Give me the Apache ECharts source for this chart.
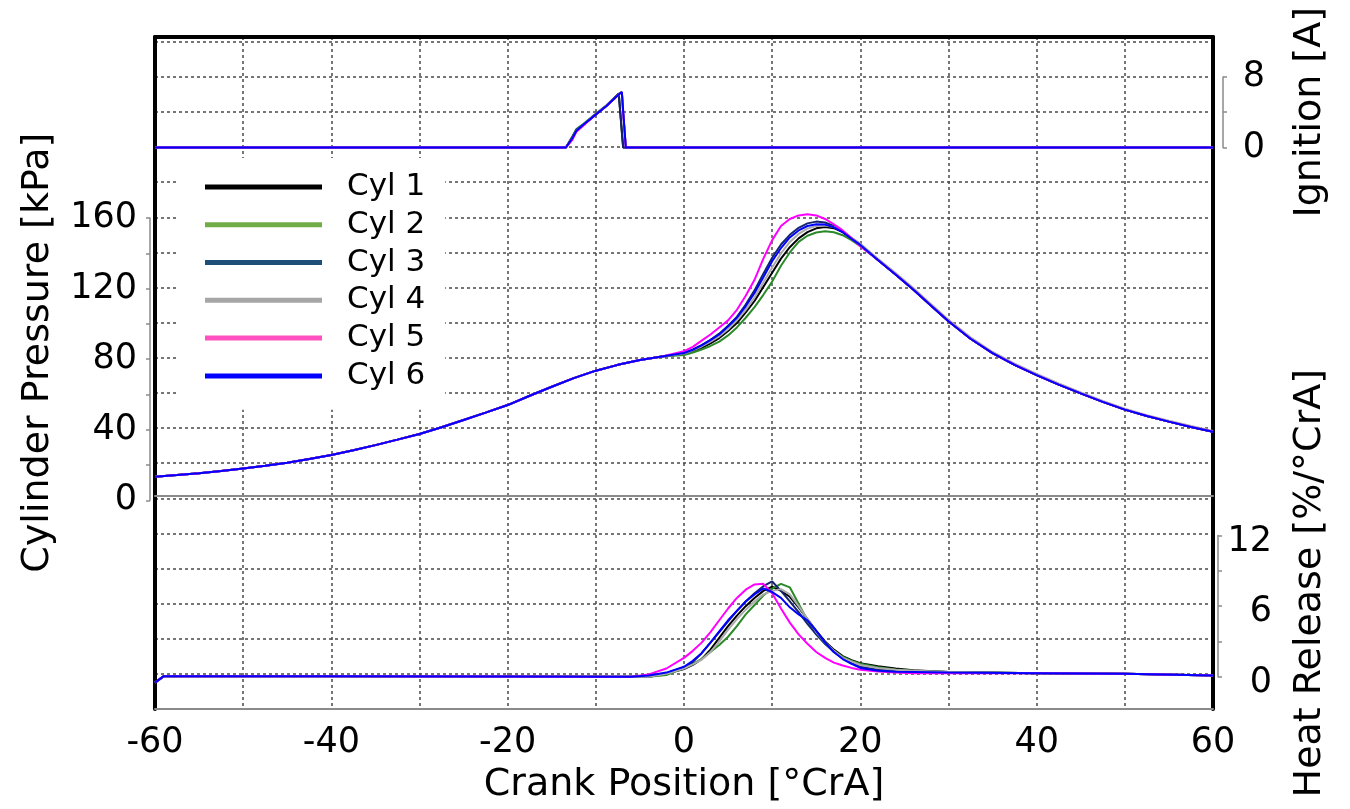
<!DOCTYPE html>
<html><head><meta charset="utf-8">
<script src="https://cdn.jsdelivr.net/npm/echarts@6/dist/echarts.min.js"></script>
<style>html,body{margin:0;padding:0;background:#fff}#c{width:1350px;height:809px}</style>
</head><body><div id="c"></div>
<script>
const FONT = 'DejaVu Sans';

// ---------- data ----------
const cylNames = ['Cyl 1', 'Cyl 2', 'Cyl 3', 'Cyl 4', 'Cyl 5', 'Cyl 6'];
const lineColors = ['#000000', '#2a8a2a', '#14246e', '#aaaaaa', '#ff00ff', '#0000ff'];
const legendColors = ['#000000', '#70AD47', '#1F4E79', '#A6A6A6', '#FF4FC0', '#0000FF'];

const xTickLabels = [-60, -40, -20, 0, 20, 40, 60];
const pressureTickLabels = [0, 40, 80, 120, 160];
const ignitionTickLabels = [0, 8];
const heatTickLabels = [0, 6, 12];

// Ignition current [A]
const ignitionX = [-60, -13.4, -12.7, -12.2, -11.4, -10.3, -8.8, -7.4, -7.05, -6.9, -6.6, 60];
const ign1 = [0, 0, 1.1, 2.0, 2.6, 3.5, 4.7, 6.1, 1.8, 0, 0, 0];
const ign2 = [0, 0, 1.2, 2.1, 2.7, 3.6, 4.8, 6.1, 6.3, 4.0, 0, 0];
const ign3 = [0, 0, 1.1, 2.0, 2.6, 3.5, 4.7, 6.1, 1.8, 0, 0, 0];
const ign4 = [0, 0, 1.0, 1.9, 2.6, 3.5, 4.7, 6.0, 6.3, 4.0, 0, 0];
const ign5 = [0, 0, 0.8, 1.8, 2.5, 3.5, 4.7, 6.0, 6.3, 4.0, 0, 0];
const ign6 = [0, 0, 1.0, 1.9, 2.6, 3.5, 4.7, 6.0, 6.3, 4.2, 0, 0];

// Cylinder pressure [kPa]
const compressionX = [-60, -57.5, -55, -52.5, -50, -47.5, -45, -42.5, -40, -37.5, -35, -32.5, -30, -27.5, -25, -22.5, -20, -17.5, -15, -12.5, -10, -7.5, -5, -2.5];
const compressionP = [13.4, 14.3, 15.3, 16.6, 18.1, 19.6, 21.3, 23.4, 25.7, 28.4, 31.3, 34.4, 37.6, 41.4, 45.5, 49.7, 54, 59.3, 64.4, 69.3, 73.5, 76.8, 79.5, 81.5];
const combustionX = [0, 1, 2, 3, 4, 5, 6, 7, 8, 9, 10, 11, 12, 13, 14, 15, 16, 17, 18, 19, 20];
const press1 = [83, 84.5, 86.5, 89, 92, 96, 100.5, 106.5, 113, 121, 129, 137, 143.5, 148.5, 152, 154.2, 155, 154.3, 152, 148.5, 145];
const press2 = [82.4, 83.8, 85.5, 87.5, 90, 93.5, 98, 103.5, 109.5, 116.5, 124, 133, 140.5, 146.5, 150, 151.8, 152.5, 152, 150.3, 147.5, 144];
const press3 = [83.5, 85.5, 88, 91, 94.5, 99, 104, 111, 119, 128.5, 137.5, 145, 150.5, 154.5, 157, 158, 157.5, 155.5, 152.5, 148.5, 145];
const press4 = [83.2, 85, 87.2, 90, 93, 97, 102, 108, 115, 123.5, 132, 140, 146.5, 151, 154, 155.5, 155.8, 155, 152.5, 149, 145.5];
const press5 = [84.5, 87, 90.5, 94, 98, 102, 108, 116, 125, 137, 147.5, 155.5, 159.5, 161.5, 162.2, 161.5, 159.5, 156.5, 153, 148.5, 144];
const press6 = [83.5, 85.3, 87.8, 90.8, 94, 98.5, 103.5, 110, 117.5, 126.5, 135.5, 143, 149, 153, 155.5, 156.5, 156.3, 154.8, 152, 148.3, 144.8];
const expansionX = [22, 24, 26, 28, 30, 32.5, 35, 37.5, 40, 42.5, 45, 47.5, 50, 52.5, 55, 57.5, 60];
const expansionP = [136.2, 128, 119.5, 110.5, 101.5, 91.6, 83.4, 76.8, 71, 65.6, 60.6, 55.8, 51.4, 47.8, 44.6, 41.6, 38.9];
const expansionP4 = [137, 128.8, 120.3, 111.3, 102.3, 92.4, 84.1, 77.5, 71.7, 66.3, 61.2, 56.4, 52, 48.3, 45.1, 42.1, 39.3];

// Heat release [%/°CrA]
const heatX = [-60, -59, -40, -20, -8, -6, -4, -2, 0, 1, 2, 3, 4, 5, 6, 7, 8, 9, 10, 11, 12, 13, 14, 15, 16, 17, 18, 19, 20, 22, 24, 26, 30, 40, 50, 60];
const heat1 = [-0.5, 0.05, 0.05, 0.02, 0, 0, 0, 0.25, 0.65, 1.0, 1.5, 2.3, 3.3, 4.3, 5.2, 6.0, 6.7, 7.3, 7.65, 7.3, 6.8, 5.9, 4.9, 3.9, 3.0, 2.3, 1.75, 1.4, 1.15, 0.9, 0.7, 0.55, 0.4, 0.3, 0.25, 0.1];
const heat2 = [-0.5, 0.05, 0.05, 0.02, 0, 0, 0, 0.15, 0.75, 1.1, 1.5, 2.1, 2.7, 3.4, 4.3, 5.3, 6.1, 6.9, 7.5, 7.9, 7.6, 6.2, 4.8, 3.6, 2.8, 2.2, 1.7, 1.35, 1.1, 0.8, 0.62, 0.5, 0.4, 0.3, 0.25, 0.1];
const heat3 = [-0.5, 0.05, 0.05, 0.02, 0, 0, 0, 0.3, 0.8, 1.25, 2.0, 2.9, 3.8, 4.7, 5.6, 6.4, 7.1, 7.7, 8.1, 7.3, 6.4, 5.5, 4.5, 3.6, 2.8, 2.1, 1.55, 1.15, 0.85, 0.6, 0.5, 0.45, 0.4, 0.3, 0.25, 0.1];
const heat4 = [-0.5, 0.05, 0.05, 0.02, 0, 0, 0, 0.25, 0.7, 1.05, 1.45, 2.1, 3.0, 4.0, 4.9, 5.7, 6.4, 7.0, 7.3, 7.45, 7.0, 6.0, 4.9, 3.8, 2.9, 2.2, 1.6, 1.3, 1.0, 0.75, 0.6, 0.5, 0.4, 0.3, 0.25, 0.1];
const heat5 = [-0.5, 0.05, 0.05, 0.02, 0, 0, 0.2, 0.7, 1.6, 2.2, 2.9, 3.8, 4.8, 5.8, 6.7, 7.4, 7.85, 7.9, 7.1, 5.8, 4.6, 3.6, 2.8, 2.1, 1.6, 1.2, 0.95, 0.75, 0.6, 0.45, 0.35, 0.3, 0.3, 0.3, 0.25, 0.1];
const heat6 = [-0.5, 0.05, 0.05, 0.02, 0, 0, 0.1, 0.35, 0.85, 1.35, 2.0, 2.9, 3.85, 4.8, 5.6, 6.4, 7.0, 7.5, 7.2, 6.7, 5.9, 5.3, 4.8, 3.9, 2.9, 2.1, 1.5, 1.1, 0.75, 0.5, 0.42, 0.4, 0.35, 0.3, 0.25, 0.1];

const ignitionSets = [ign1, ign2, ign3, ign4, ign5, ign6];
const pressureSets = [press1, press2, press3, press4, press5, press6];
const expansionSets = [expansionP, expansionP, expansionP, expansionP4, expansionP, expansionP];
const heatSets = [heat1, heat2, heat3, heat4, heat5, heat6];

// ---------- layout ----------
const STEP = 35.28;          // pixel spacing of the dashed grid
const BOTTOM_Y = 712;        // bottom of plot frame
const TOP_Y = 37;            // top of plot frame
const L = 155, R = 137;
const bandTop = k => BOTTOM_Y - k * STEP;

const pair = (xs, ys) => xs.map((x, i) => [x, ys[i]]);
const dash = { color: '#4a4a4a', width: 1.5, type: [3, 3] };
const gray = '#8a8a8a';

const hiddenX = (gridIndex) => ({
  type: 'value', gridIndex, min: -60, max: 60, show: false
});

const option = {
  animation: false,
  backgroundColor: '#fff',
  textStyle: { fontFamily: FONT },
  grid: [
    { left: L, right: R, top: TOP_Y, height: BOTTOM_Y - TOP_Y },
    { left: L, right: R, top: bandTop(18), height: 2 * STEP },
    { left: L, right: R, top: bandTop(14), height: 8 * STEP },
    { left: L, right: R, top: bandTop(5), height: 4 * STEP }
  ],
  xAxis: [
    {
      type: 'value', gridIndex: 0, min: -60, max: 60, interval: 10, position: 'bottom',
      axisLine: { show: true, onZero: false, lineStyle: { color: gray, width: 2 } },
      axisTick: { show: false },
      splitLine: { show: true, lineStyle: dash },
      axisLabel: {
        fontSize: 35, color: '#000', fontFamily: FONT, margin: 16,
        formatter: v => xTickLabels.includes(v) ? String(v) : ''
      },
      name: 'Crank Position [°CrA]', nameLocation: 'middle', nameGap: 57,
      nameTextStyle: { fontSize: 38, color: '#000', fontFamily: FONT }
    },
    {
      type: 'value', gridIndex: 0, min: -60, max: 60, position: 'top',
      axisLine: { show: true, onZero: false, lineStyle: { color: '#000', width: 4 } },
      axisTick: { show: false }, axisLabel: { show: false }, splitLine: { show: false }
    },
    hiddenX(1),
    {
      type: 'value', gridIndex: 2, min: -60, max: 60, position: 'bottom', offset: -5,
      axisLine: { show: true, onZero: false, lineStyle: { color: gray, width: 2 } },
      axisTick: { show: false }, axisLabel: { show: false }, splitLine: { show: false }
    },
    hiddenX(3)
  ],
  yAxis: [
    {
      type: 'value', gridIndex: 0, min: 0, max: (BOTTOM_Y - TOP_Y) / STEP, interval: 1, position: 'left',
      axisLine: { show: true, onZero: false, lineStyle: { color: '#000', width: 4 } },
      axisTick: { show: false }, axisLabel: { show: false },
      splitLine: { show: true, lineStyle: dash }
    },
    {
      type: 'value', gridIndex: 0, min: 0, max: (BOTTOM_Y - TOP_Y) / STEP, position: 'right',
      axisLine: { show: true, onZero: false, lineStyle: { color: '#000', width: 4 } },
      axisTick: { show: false }, axisLabel: { show: false }, splitLine: { show: false }
    },
    {
      type: 'value', gridIndex: 1, min: 0, max: 8, interval: 4, position: 'right', offset: 10,
      axisLine: { show: true, onZero: false, lineStyle: { color: gray, width: 1.5 } },
      axisTick: { show: true, length: 4, lineStyle: { color: gray, width: 1.5 } },
      splitLine: { show: false },
      axisLabel: {
        fontSize: 35, color: '#000', fontFamily: FONT, margin: 42, align: 'right',
        formatter: v => ignitionTickLabels.includes(v) ? String(v) : ''
      },
      name: 'Ignition [A]', nameLocation: 'middle', nameRotate: 90, nameGap: 68,
      nameTextStyle: { fontSize: 38, color: '#000', fontFamily: FONT }
    },
    {
      type: 'value', gridIndex: 2, min: 0, max: 160, interval: 20, position: 'left', offset: 5,
      axisLine: { show: true, onZero: false, lineStyle: { color: gray, width: 1.5 } },
      axisTick: { show: true, length: 4, lineStyle: { color: gray, width: 1.5 } },
      splitLine: { show: false },
      axisLabel: {
        fontSize: 35, color: '#000', fontFamily: FONT, margin: 13,
        formatter: v => pressureTickLabels.includes(v) ? String(v) : ''
      },
      name: 'Cylinder Pressure [kPa]', nameLocation: 'middle', nameRotate: 90, nameGap: 93,
      nameTextStyle: { fontSize: 38, color: '#000', fontFamily: FONT, padding: [0, 0, 0, 13] }
    },
    {
      type: 'value', gridIndex: 3, min: 0, max: 12, interval: 3, position: 'right', offset: 5,
      axisLine: { show: true, onZero: false, lineStyle: { color: gray, width: 1.5 } },
      axisTick: { show: true, length: 4, lineStyle: { color: gray, width: 1.5 } },
      splitLine: { show: false },
      axisLabel: {
        fontSize: 35, color: '#000', fontFamily: FONT, margin: 54, align: 'right',
        verticalAlign: 'top', lineHeight: 12,
        formatter: v => heatTickLabels.includes(v) ? String(v) : ''
      },
      name: 'Heat Release [%/°CrA]', nameLocation: 'middle', nameRotate: 90, nameGap: 73,
      nameTextStyle: { fontSize: 38, color: '#000', fontFamily: FONT, padding: [0, 0, 0, 46] }
    }
  ],
  legend: {
    orient: 'vertical', left: 178, top: 158,
    backgroundColor: '#fff',
    padding: [10, 20, 15, 27],
    itemWidth: 117, itemHeight: 5, itemGap: 0, icon: 'rect',
    textStyle: { fontSize: 31, color: '#000', fontFamily: FONT, lineHeight: 37.8, padding: [0, 0, 0, 20] },
    data: cylNames.map((n, i) => ({ name: n, itemStyle: { color: legendColors[i] } }))
  },
  series: []
};

cylNames.forEach((name, i) => {
  option.series.push({
    name, type: 'line', xAxisIndex: 2, yAxisIndex: 2, showSymbol: false, symbol: 'none', clip: false,
    lineStyle: { color: lineColors[i], width: 2 }, itemStyle: { color: lineColors[i] },
    data: pair(ignitionX, ignitionSets[i])
  });
});
cylNames.forEach((name, i) => {
  const data = pair(compressionX, compressionP)
    .concat(pair(combustionX, pressureSets[i]))
    .concat(pair(expansionX, expansionSets[i]));
  option.series.push({
    name, type: 'line', xAxisIndex: 3, yAxisIndex: 3, showSymbol: false, symbol: 'none', clip: false,
    lineStyle: { color: lineColors[i], width: 2 }, itemStyle: { color: lineColors[i] },
    data
  });
});
cylNames.forEach((name, i) => {
  option.series.push({
    name, type: 'line', xAxisIndex: 4, yAxisIndex: 4, showSymbol: false, symbol: 'none', clip: false,
    lineStyle: { color: lineColors[i], width: 2 }, itemStyle: { color: lineColors[i] },
    data: pair(heatX, heatSets[i])
  });
});

const chart = echarts.init(document.getElementById('c'), null, { renderer: 'canvas' });
chart.setOption(option);
</script></body></html>
